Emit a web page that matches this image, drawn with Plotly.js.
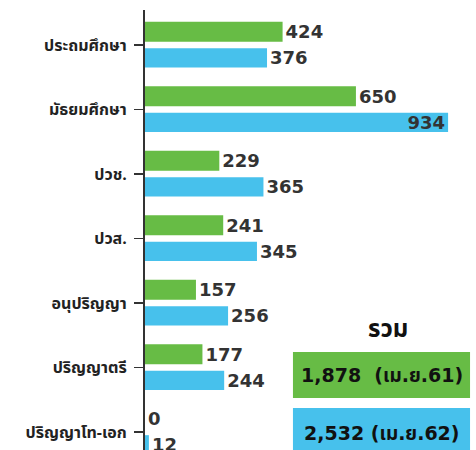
<!DOCTYPE html>
<html>
<head>
<meta charset="utf-8">
<script src="https://cdn.plot.ly/plotly-3.0.1.min.js"></script>
<style>html,body{margin:0;padding:0;background:#fff;}#chart{width:476px;height:450px;}</style>
</head>
<body>
<div id="chart"></div>
<script>
const categories = ["ประถมศึกษา","มัธยมศึกษา","ปวช.","ปวส.","อนุปริญญา","ปริญญาตรี","ปริญญาโท-เอก"];
const values61 = [424, 650, 229, 241, 157, 177, 0];
const values62 = [376, 934, 365, 345, 256, 244, 12];
const totalTitle = "รวม";
const totalLabels = ["1,878  (เม.ย.61)", "2,532 (เม.ย.62)"];

const green = "#67bc45";
const blue = "#47c1ec";
const labelFont = {family: "DejaVu Sans, sans-serif", size: 18, color: "#333333", weight: "bold"};
const thaiFont = "Noto Sans Thai, Noto Sans, sans-serif";

const pos62 = values62.map(v => v > 800 ? "inside" : "outside");

const traces = [
  {type: "bar", orientation: "h", name: "เม.ย.61", y: categories, x: values61,
   marker: {color: green}, offset: -0.36, width: 0.31,
   text: values61.map(String), textposition: "outside", textfont: labelFont,
   cliponaxis: false, constraintext: "none", hoverinfo: "x+y"},
  {type: "bar", orientation: "h", name: "เม.ย.62", y: categories, x: values62,
   marker: {color: blue}, offset: 0.05, width: 0.30,
   text: values62.map(String), textposition: pos62, insidetextanchor: "end",
   textfont: labelFont, insidetextfont: labelFont, outsidetextfont: labelFont,
   cliponaxis: false, constraintext: "none", hoverinfo: "x+y"}
];

const layout = {
  width: 476, height: 450,
  margin: {l: 145, r: 0, t: 10, b: 0},
  paper_bgcolor: "#ffffff", plot_bgcolor: "#ffffff",
  showlegend: false,
  barmode: "overlay",
  xaxis: {range: [0, 1020], visible: false, fixedrange: true},
  yaxis: {type: "category", categoryarray: categories, range: [6.28, -0.543],
          showline: true, linecolor: "#333333", linewidth: 2,
          ticks: "outside", ticklen: 9, tickcolor: "#333333", tickwidth: 1.5,
          ticklabelstandoff: 4,
          showgrid: false, zeroline: false,
          tickfont: {family: thaiFont, size: 16, color: "#222222", weight: "bold"}},
  shapes: [
    {type: "rect", xref: "paper", yref: "paper", x0: 0.447, x1: 0.982, y0: 0.118, y1: 0.2227,
     fillcolor: green, line: {width: 0}, layer: "below"},
    {type: "rect", xref: "paper", yref: "paper", x0: 0.447, x1: 0.982, y0: -0.05, y1: 0.0955,
     fillcolor: blue, line: {width: 0}, layer: "below"}
  ],
  annotations: [
    {xref: "paper", yref: "paper", x: 0.733, y: 0.273, xanchor: "center", yanchor: "middle",
     text: totalTitle, showarrow: false,
     font: {family: thaiFont, size: 24, color: "#111111", weight: "bold"}},
    {xref: "paper", yref: "paper", x: 0.716, y: 0.170, xanchor: "center", yanchor: "middle",
     text: totalLabels[0], showarrow: false,
     font: {family: "DejaVu Sans, " + thaiFont, size: 19, color: "#111111", weight: "bold"}},
    {xref: "paper", yref: "paper", x: 0.716, y: 0.039, xanchor: "center", yanchor: "middle",
     text: totalLabels[1], showarrow: false,
     font: {family: "DejaVu Sans, " + thaiFont, size: 19, color: "#111111", weight: "bold"}}
  ]
};

Plotly.newPlot("chart", traces, layout, {displayModeBar: false, staticPlot: true});
</script>
</body>
</html>
